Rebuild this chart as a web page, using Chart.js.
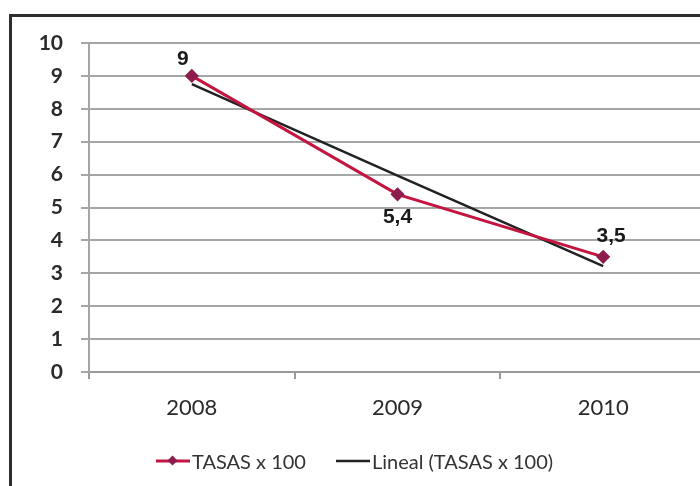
<!DOCTYPE html>
<html>
<head>
<meta charset="utf-8">
<script src="https://cdn.jsdelivr.net/npm/chart.js@4.4.1/dist/chart.umd.min.js"></script>
<style>
  html, body { margin: 0; padding: 0; background: #fff; overflow: hidden; }
  body { width: 700px; height: 486px; position: relative; }
  .frame {
    position: absolute; left: 9px; top: 14px; width: 730px; height: 500px;
    border: 3px solid #2e2e2e; box-sizing: border-box;
  }
  .box { position: absolute; left: 13px; top: 17px; width: 720px; height: 441px; }
  .legend {
    position: absolute; left: 156px; top: 449px; font-family: Lato, "Open Sans", sans-serif;
    font-size: 20px; color: #333; display: flex; align-items: center; white-space: nowrap;
  }
  .legend .item { display: flex; align-items: center; margin-right: 30px; }
  .legend svg { margin-right: 2px; }
</style>
</head>
<body>
<div class="frame"></div>
<div class="box"><canvas id="chart"></canvas></div>
<div class="legend">
  <div class="item">
    <svg width="34" height="12"><line x1="0" y1="6" x2="34" y2="6" stroke="#c3153f" stroke-width="3"/><rect x="13" y="2" width="7" height="7" fill="#8c1d4c" transform="rotate(45 16.5 5.5)"/></svg>
    <span>TASAS x 100</span>
  </div>
  <div class="item">
    <svg width="34" height="12"><line x1="0" y1="6" x2="34" y2="6" stroke="#222" stroke-width="2.5"/></svg>
    <span>Lineal (TASAS x 100)</span>
  </div>
</div>
<script>
const years = ["2008", "2009", "2010"];
const tasas = [9, 5.4, 3.5];
const tasasLabels = ["9", "5,4", "3,5"];
const tendencia = [8.75, 5.97, 3.22];
const yTicks = [0, 1, 2, 3, 4, 5, 6, 7, 8, 9, 10];

// etiquetas de datos encima/debajo de los puntos
const dataLabels = {
  id: "dataLabels",
  afterDatasetsDraw(chart) {
    const ctx = chart.ctx;
    const meta = chart.getDatasetMeta(0);
    const offs = [[-9, -17], [0, 23], [8, -21]];
    ctx.save();
    ctx.font = "bold 21px 'Liberation Sans', Arial, sans-serif";
    ctx.fillStyle = "#1a1a1a";
    ctx.textAlign = "center";
    ctx.textBaseline = "middle";
    meta.data.forEach((pt, i) => {
      ctx.fillText(tasasLabels[i], pt.x + offs[i][0], pt.y + offs[i][1]);
    });
    ctx.restore();
  },
};

new Chart(document.getElementById("chart"), {
  type: "line",
  data: {
    labels: years,
    datasets: [
      {
        label: "TASAS x 100",
        data: tasas,
        borderColor: "#c3153f",
        borderWidth: 3,
        pointStyle: "rectRot",
        pointRadius: 5,
        pointBackgroundColor: "#8c1d4c",
        pointBorderColor: "#8c1d4c",
        tension: 0,
        order: 1,
      },
      {
        label: "Lineal (TASAS x 100)",
        data: tendencia,
        borderColor: "#222",
        borderWidth: 2.5,
        pointRadius: 0,
        tension: 0,
        order: 2,
      },
    ],
  },
  options: {
    responsive: true,
    maintainAspectRatio: false,
    animation: false,
    layout: { padding: { top: 26, right: 27, left: 0, bottom: 0 } },
    plugins: { legend: { display: false }, tooltip: { enabled: false } },
    scales: {
      x: {
        offset: true,
        grid: { offset: true, drawOnChartArea: false, drawTicks: true, tickLength: 7, color: "#9a9a9a", lineWidth: 2 },
        border: { color: "#9a9a9a", width: 2 },
        ticks: { padding: 16, color: "#2a2a2a", font: { family: "Lato, 'Open Sans', sans-serif", size: 22 } },
        afterFit: (s) => { s.height = 86; },
      },
      y: {
        min: 0,
        max: 10,
        afterBuildTicks: (s) => { s.ticks = yTicks.map((v) => ({ value: v })); },
        grid: { color: "#a6a6a6", lineWidth: 2, tickLength: 8 },
        border: { color: "#a6a6a6", width: 2 },
        ticks: { padding: 18, color: "#2a2a2a", font: { family: "Lato, 'Open Sans', sans-serif", size: 21, weight: "bold" } },
        afterFit: (s) => { s.width = 76; s.paddingTop = 0; s.paddingBottom = 0; },
      },
    },
  },
  plugins: [dataLabels],
});
</script>
</body>
</html>
